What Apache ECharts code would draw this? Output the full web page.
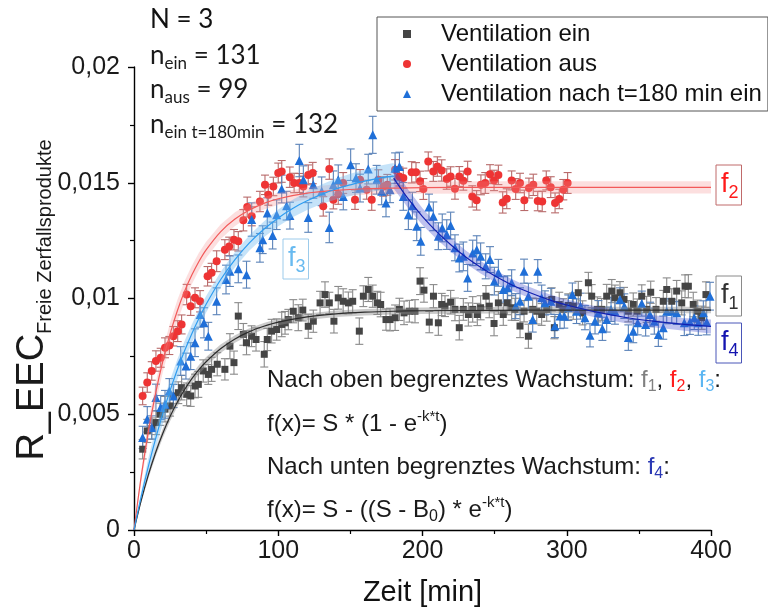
<!DOCTYPE html>
<html>
<head>
<meta charset="utf-8">
<script src="https://cdn.jsdelivr.net/npm/echarts@6.0.0/dist/echarts.min.js"></script>
<style>
  html, body { margin: 0; padding: 0; background: #fff; }
  #chart { width: 768px; height: 612px; }
</style>
</head>
<body>
<div id="chart"></div>
<script>
// All R_EEC values below are stored in units of 10^-3.
const SCALE = 1e-3;

// Axis ranges: [min, max, interval]
const xRange = [0, 400, 100];
const yRange = [0, 0.02, 0.005];

// Ventilation ein (black squares)
const einT = [6,9.2,12.3,15.2,18,21.5,25,27.3,30.7,33,36.5,39.3,42.3,44.6,48,51.5,53.8,57.7,63,66.5,
  69.3,72.3,75.8,78,81.5,84.6,90.3,92.4,95.4,98.9,102.4,104.7,107,110.4,113.9,117,120.8,124.3,129,132.4,
  135.4,138.6,141.6,145,148.6,151.6,156.2,159,162.4,165.5,168.7,171,174.7,177.5,181,184,187.2,190.9,194.8,198.3,
  201,204.7,207.6,211,213.3,215.6,219.5,222.5,225.5,228.3,231.8,234.8,238,240.3,244,246.3,249.6,252.6,256,258.8,
  261.8,264.1,267.6,270.4,273.4,276.4,279.2,282.6,286.1,289.6,291.4,294.8,297.6,301,304.5,308,311,315,317.3,321.2,
  324.2,327.7,331.2,333.4,336.9,339.7,342.7,346.1,348.9,352,355.4,358.2,361.9,366.9,369.3,372.8,376.2,379.7,382,384.3,
  387.7,390.8,393.6,396.5];
const einV = [3.49,4.28,4.38,4.64,5.0,5.22,5.36,5.79,5.93,6.15,5.86,5.79,6.22,6.29,6.87,6.72,6.94,7.16,6.94,7.94,
  7.23,9.24,8.45,8.09,8.37,8.23,7.59,8.23,8.59,8.66,8.88,8.95,9.09,9.45,9.17,9.5,8.8,9.02,9.81,10.17,
  9.81,9.02,10.03,9.88,9.81,9.88,8.59,10.1,10.39,10.1,9.81,9.74,9.09,9.09,9.17,9.53,9.38,9.45,9.45,10.75,
  10.36,8.98,10.1,8.95,9.74,9.67,9.84,9.53,8.74,9.53,9.31,9.53,9.31,9.6,10.1,9.67,8.92,9.81,9.31,9.81,
  9.6,9.53,8.81,9.45,8.37,9.53,9.45,9.31,9.53,9.96,8.74,9.74,9.53,9.7,9.67,10.25,9.38,10.68,10.1,9.53,
  9.53,10.1,10.32,10.03,10.25,9.96,9.45,9.74,9.45,10.1,9.53,10.27,9.53,9.88,10.39,9.88,10.32,9.81,10.53,10.53,
  9.74,9.45,9.17,10.17];
const einErr = [0.42,0.5,0.46,0.52,0.48,0.55,0.44,0.5,0.47,0.53,0.49,0.45,0.51,0.56,0.48,0.43,0.52,0.5,0.46,0.54,
  0.5,0.58,0.47,0.52,0.45,0.5,0.55,0.48,0.51,0.46,0.53,0.49,0.44,0.5,0.56,0.47,0.52,0.48,0.5,0.55,
  0.46,0.51,0.49,0.54,0.47,0.5,0.57,0.45,0.52,0.48,0.5,0.53,0.46,0.49,0.55,0.48,0.51,0.47,0.5,0.58,
  0.52,0.46,0.5,0.54,0.48,0.45,0.51,0.49,0.53,0.47,0.5,0.55,0.48,0.52,0.46,0.5,0.53,0.49,0.47,0.51,
  0.54,0.48,0.5,0.46,0.52,0.49,0.55,0.47,0.51,0.5,0.48,0.53,0.46,0.5,0.57,0.49,0.52,0.45,0.5,0.54,
  0.47,0.51,0.5,0.55,0.48,0.52,0.46,0.5,0.53,0.49,0.56,0.48,0.51,0.47,0.5,0.54,0.46,0.52,0.49,0.5,
  0.53,0.48,0.5,0.55];

// Ventilation aus (red circles)
const ausT = [6,9.2,12.3,15.2,18.5,21.5,24.5,27.3,30.3,33,36.5,39.3,42.3,45.8,51,53.8,57.3,63,66,69.3,
  72.3,75.8,78.5,81.6,87.3,90.8,93.1,96.6,100,102.4,108,111,114.6,117.4,120.8,123.9,131.2,135.4,138.2,141.6,
  145,153.2,156.7,161.3,164.8,169.4,172.8,175.6,181,184,186.7,192.5,195.5,198.3,200.6,204,207.5,210.3,213.3,216.8,
  219.5,222.5,225.5,228.3,231.3,234.5,237.5,240.5,243.5,246.8,249.6,252.6,255.6,258.4,261.8,264.6,267.6,270.6,273.8,276.8,
  279.9,283,285.8,288.9,291.9,294.8,297.6,300.6];
const ausV = [5.79,6.37,6.87,7.3,7.44,7.87,7.97,8.37,8.59,8.88,10.17,9.67,10.03,9.88,10.96,11.11,11.61,12.11,12.25,12.54,
  12.47,13.38,13.95,13.55,14.19,14.91,14.48,14.84,15.42,15.49,15.24,14.99,14.99,14.84,15.34,15.42,13.98,15.59,14.27,14.5,
  14.99,14.27,15.13,14.7,14.27,15.13,14.84,14.91,15.56,15.27,15.2,15.45,15.45,15.06,14.73,15.92,15.49,15.7,15.53,15.16,
  15.27,14.74,15.27,15.09,15.49,14.41,14.24,14.91,14.99,15.37,15.1,15.34,14.15,14.31,15.1,14.73,14.99,14.24,14.77,14.91,
  14.21,14.19,15.1,14.81,14.13,14.3,14.7,14.99];
const ausErr = [0.38,0.42,0.4,0.44,0.41,0.43,0.39,0.42,0.45,0.41,0.44,0.4,0.43,0.46,0.42,0.41,0.45,0.43,0.4,0.44,
  0.42,0.46,0.43,0.41,0.44,0.42,0.45,0.4,0.43,0.47,0.44,0.42,0.41,0.45,0.43,0.46,0.42,0.44,0.4,0.43,
  0.45,0.42,0.44,0.41,0.46,0.43,0.42,0.45,0.44,0.41,0.43,0.46,0.42,0.44,0.45,0.41,0.43,0.42,0.46,0.44,
  0.42,0.45,0.43,0.41,0.44,0.46,0.42,0.43,0.45,0.41,0.44,0.42,0.46,0.43,0.41,0.45,0.42,0.44,0.43,0.46,
  0.42,0.44,0.41,0.45,0.43,0.42,0.44,0.45];

// Ventilation nach t=180 min ein (blue triangles)
const nachT = [6,9.2,12.3,15.2,18.5,21.5,24.5,27.3,32.4,36,39.3,42.3,45.8,48.5,51.5,57.3,63.8,66.5,72.3,78,
  81.6,87.3,89.2,92.4,96.1,98.9,102.4,105.8,108.1,114.6,117.4,120.8,124.3,130.1,135.4,138.2,141.6,145.1,150.2,153.9,
  156.7,162.4,165.5,168.2,171.7,174.7,177.5,181,184,186.7,190.2,193,196,198.8,204.5,207.5,211,213.7,216.8,219.5,
  222.5,225.5,228.3,231.3,234.8,237.6,240.3,243.8,246.8,249.8,252.6,256,259,261.8,264.6,267.6,270.4,273.4,276.4,279.9,
  282.6,284.9,289,291.8,295.3,298.3,301.1,303.9,306.8,309.5,312.6,316.1,319.6,321.9,324.7,327.7,330.7,333.4,336.9,339.9,
  342.7,346.1,349.2,352,354.7,357.7,360.7,363.5,366.9,369.3,372.8,376.2,381.5,385.4,388.4,391.2,394.7,397,399.3];
const nachV = [4.0,4.78,4.43,5.72,5.29,5.43,6.0,5.79,7.3,7.08,7.51,8.09,9.31,8.95,8.37,9.88,10.82,11.18,11.28,11.03,
  13.41,12.19,12.54,13.69,12.72,13.62,14.73,14.01,13.58,15.96,15.13,13.5,14.91,14.63,13.07,14.91,15.13,14.41,15.78,15.2,
  14.77,15.59,17.07,15.13,14.63,14.13,14.7,15.63,15.7,14.41,13.62,14.01,13.12,12.47,13.95,13.55,12.69,13.05,12.76,13.15,
  12.19,11.75,11.82,10.89,11.97,12.11,11.82,11.39,11.68,10.75,11.11,10.39,10.46,10.68,9.67,9.88,11.18,10.1,9.09,11.18,
  10.03,9.81,9.88,8.81,9.24,9.24,9.6,10.17,9.45,9.67,9.17,8.41,9.02,9.38,8.69,9.09,9.53,9.45,9.96,9.67,
  8.31,8.59,8.95,9.78,8.88,9.31,9.02,8.45,8.74,9.45,9.45,9.38,8.95,8.98,9.17,8.95,9.38,8.98,10.1];
const nachErr = [0.48,0.55,0.5,0.58,0.52,0.6,0.54,0.5,0.62,0.56,0.58,0.6,0.55,0.65,0.6,0.58,0.62,0.66,0.6,0.58,
  0.72,0.62,0.6,0.66,0.58,0.64,0.6,0.62,0.58,0.7,0.6,0.64,0.58,0.62,0.66,0.6,0.64,0.58,0.68,0.62,
  0.6,0.64,0.8,0.62,0.58,0.6,0.56,0.66,0.62,0.6,0.64,0.58,0.62,0.6,0.56,0.62,0.58,0.6,0.64,0.58,
  0.56,0.6,0.62,0.58,0.55,0.6,0.58,0.54,0.56,0.6,0.58,0.55,0.52,0.56,0.54,0.58,0.52,0.56,0.54,0.5,
  0.55,0.52,0.56,0.5,0.54,0.52,0.55,0.5,0.53,0.56,0.52,0.5,0.55,0.53,0.5,0.54,0.52,0.56,0.5,0.53,
  0.55,0.5,0.52,0.54,0.5,0.53,0.56,0.52,0.5,0.54,0.52,0.5,0.55,0.53,0.51,0.54,0.52,0.55,0.6];

// Fitted curves f1..f4 with the half width of their confidence bands
const f1T = [0,5,10,15,20,25,30,35,40,45,50,60,70,80,90,100,120,140,160,180,200,250,300,400];
const f1V = [0,1.28,2.39,3.35,4.18,4.90,5.52,6.06,6.53,6.93,7.27,7.83,8.25,8.57,8.80,8.98,9.21,9.34,9.41,9.45,9.47,9.49,9.50,9.50];
const f1Half = [0,0.1,0.15,0.18,0.2,0.2,0.2,0.2,0.2,0.2,0.2,0.18,0.16,0.15,0.14,0.14,0.14,0.14,0.14,0.14,0.14,0.14,0.14,0.14];

const f2T = [0,5,10,15,20,25,30,35,40,45,50,60,70,80,90,100,120,140,160,180,200,250,300,400];
const f2V = [0,2.31,4.26,5.91,7.30,8.47,9.46,10.30,11.00,11.60,12.10,12.88,13.43,13.82,14.11,14.31,14.55,14.67,14.74,14.77,14.79,14.80,14.80,14.80];
const f2Half = [0,0.25,0.4,0.45,0.48,0.48,0.46,0.44,0.4,0.38,0.35,0.32,0.3,0.28,0.27,0.26,0.26,0.26,0.26,0.26,0.26,0.26,0.26,0.26];

const f3T = [0,5,10,15,20,25,30,35,40,45,50,60,70,80,90,100,110,120,130,140,150,160,170,180];
const f3V = [0,1.45,2.76,3.95,5.04,6.02,6.92,7.73,8.47,9.14,9.75,10.81,11.68,12.40,12.99,13.48,13.89,14.22,14.50,14.73,14.91,15.07,15.20,15.30];
const f3Half = [0,0.2,0.35,0.42,0.45,0.45,0.44,0.42,0.4,0.38,0.36,0.34,0.33,0.33,0.34,0.36,0.38,0.4,0.42,0.45,0.48,0.5,0.53,0.55];

const f4T = [180,190,200,210,220,230,240,250,260,270,280,290,300,320,340,360,380,400];
const f4V = [15.20,14.31,13.54,12.88,12.30,11.79,11.36,10.98,10.65,10.37,10.12,9.90,9.72,9.42,9.19,9.02,8.89,8.79];
const f4Half = [0.45,0.4,0.36,0.33,0.3,0.28,0.27,0.26,0.25,0.24,0.24,0.24,0.24,0.24,0.25,0.26,0.27,0.3];

const SERIES_NAMES = ['Ventilation ein', 'Ventilation aus', 'Ventilation nach t=180 min ein'];

const SANS = 'Liberation Sans';
const CAL = 'Lato';

function pts(t, v) {
  return t.map((x, i) => [x, v[i] * SCALE]);
}

function errorBars(id, t, v, e, color) {
  return {
    type: 'custom', id, z: 2, silent: true,
    data: t.map((x, i) => [x, v[i] * SCALE, (v[i] - e[i]) * SCALE, (v[i] + e[i]) * SCALE]),
    encode: { x: 0, y: [1, 2, 3] },
    renderItem(params, api) {
      const lo = api.coord([api.value(0), api.value(2)]);
      const hi = api.coord([api.value(0), api.value(3)]);
      const w = 4;
      const st = () => ({ stroke: color, lineWidth: 1.1 });
      return {
        type: 'group',
        children: [
          { type: 'line', shape: { x1: lo[0], y1: lo[1], x2: hi[0], y2: hi[1] }, style: st() },
          { type: 'line', shape: { x1: hi[0] - w, y1: hi[1], x2: hi[0] + w, y2: hi[1] }, style: st() },
          { type: 'line', shape: { x1: lo[0] - w, y1: lo[1], x2: lo[0] + w, y2: lo[1] }, style: st() }
        ]
      };
    }
  };
}

function band(id, t, v, h, fill) {
  return {
    type: 'custom', id, z: 4, silent: true, clip: true,
    data: [[t[0], v[0] * SCALE]],
    renderItem(params, api) {
      const up = t.map((x, i) => api.coord([x, (v[i] + h[i]) * SCALE]));
      const dn = t.map((x, i) => api.coord([x, (v[i] - h[i]) * SCALE])).reverse();
      return { type: 'polygon', shape: { points: up.concat(dn) }, style: { fill } };
    }
  };
}

function fitLine(id, t, v, color) {
  return {
    type: 'line', id, z: 5, silent: true, symbol: 'none', showSymbol: false,
    data: pts(t, v), smooth: 0.3,
    lineStyle: { color, width: 1.2 }, itemStyle: { color }
  };
}

function scatter(name, t, v, symbol, size, color) {
  return {
    type: 'scatter', name, z: 3, symbol, symbolSize: size,
    data: pts(t, v), itemStyle: { color, opacity: 1 }
  };
}

// Rich-text helpers for annotation lines
function richSet(size, family) {
  const base = { fontSize: size, fontFamily: family, lineHeight: size + 6, verticalAlign: 'middle' };
  const sub = { fontSize: Math.round(size * 0.65), fontFamily: family, lineHeight: Math.round(size * 0.6), verticalAlign: 'bottom' };
  const sup = { fontSize: Math.round(size * 0.62), fontFamily: family, lineHeight: Math.round(size * 0.6), verticalAlign: 'top' };
  return {
    t: Object.assign({}, base, { fill: '#1a1a1a' }),
    s: Object.assign({}, sub, { fill: '#1a1a1a' }),
    p: Object.assign({}, sup, { fill: '#1a1a1a' }),
    g: Object.assign({}, base, { fill: '#808080' }),
    gs: Object.assign({}, sub, { fill: '#808080' }),
    r: Object.assign({}, base, { fill: '#ff1c1c' }),
    rs: Object.assign({}, sub, { fill: '#ff1c1c' }),
    b: Object.assign({}, base, { fill: '#5cb6f2' }),
    bs: Object.assign({}, sub, { fill: '#5cb6f2' }),
    d: Object.assign({}, base, { fill: '#2a38b4' }),
    ds: Object.assign({}, sub, { fill: '#2a38b4' })
  };
}

const annoRich = richSet(24, SANS);
const nRich = richSet(26, CAL);

function label(x, y, text, rich) {
  return { type: 'text', x, y, silent: true, style: { text, rich, verticalAlign: 'top', align: 'left' } };
}

function fBox(x, y, num, color, border) {
  return {
    type: 'text', x, y, silent: true,
    style: {
      text: '{a|f}{b|' + num + '}',
      rich: {
        a: { fontSize: 27, fontFamily: SANS, fill: color, lineHeight: 34, verticalAlign: 'middle' },
        b: { fontSize: 18, fontFamily: SANS, fill: color, lineHeight: 18, verticalAlign: 'bottom' }
      },
      borderColor: border, borderWidth: 1, padding: [3, 3, 3, 5],
      verticalAlign: 'top', align: 'left'
    }
  };
}

const chart = echarts.init(document.getElementById('chart'), null, { renderer: 'canvas' });

chart.setOption({
  animation: false,
  backgroundColor: '#ffffff',
  grid: { left: 134, right: 57, top: 67, bottom: 81, containLabel: false },
  legend: {
    orient: 'vertical', left: 377, top: 17,
    padding: [5, 6, 5, 26],
    itemWidth: 8, itemHeight: 8, itemGap: 6,
    borderColor: '#555', borderWidth: 1,
    selectedMode: false,
    textStyle: { fontFamily: SANS, fontSize: 24, color: '#111', lineHeight: 24, padding: [0, 0, 0, 25] },
    data: [
      { name: SERIES_NAMES[0], icon: 'rect' },
      { name: SERIES_NAMES[1], icon: 'circle' },
      { name: SERIES_NAMES[2], icon: 'triangle' }
    ]
  },
  xAxis: {
    type: 'value', min: xRange[0], max: xRange[1], interval: xRange[2],
    name: 'Zeit [min]', nameLocation: 'middle', nameGap: 48,
    nameTextStyle: { fontFamily: SANS, fontSize: 29, color: '#111' },
    splitLine: { show: false },
    axisLine: { lineStyle: { color: '#000', width: 1.4 } },
    axisTick: { show: true, inside: false, length: 6, lineStyle: { color: '#000', width: 1.4 } },
    minorTick: { show: true, splitNumber: 2, length: 4, lineStyle: { color: '#000', width: 1.2 } },
    axisLabel: { fontFamily: SANS, fontSize: 25, color: '#1a1a1a', margin: 9 }
  },
  yAxis: {
    type: 'value', min: yRange[0], max: yRange[1], interval: yRange[2],
    splitLine: { show: false },
    axisLine: { show: true, lineStyle: { color: '#000', width: 1.4 } },
    axisTick: { show: true, inside: false, length: 6, lineStyle: { color: '#000', width: 1.4 } },
    minorTick: { show: true, splitNumber: 2, length: 4, lineStyle: { color: '#000', width: 1.2 } },
    axisLabel: {
      fontFamily: SANS, fontSize: 25, color: '#1a1a1a', margin: 14,
      formatter: v => (v === 0 ? '0' : String(+v.toFixed(4)).replace('.', ','))
    }
  },
  series: [
    errorBars('errEin', einT, einV, einErr, '#8a8a8a'),
    scatter(SERIES_NAMES[0], einT, einV, 'rect', 7, '#454545'),
    errorBars('errAus', ausT, ausV, ausErr, '#b86a6a'),
    scatter(SERIES_NAMES[1], ausT, ausV, 'circle', 8, '#ee3434'),
    errorBars('errNach', nachT, nachV, nachErr, '#5a82b8'),
    scatter(SERIES_NAMES[2], nachT, nachV, 'triangle', 9, '#1f6fd8'),
    band('bandF1', f1T, f1V, f1Half, 'rgba(140,140,140,0.45)'),
    band('bandF2', f2T, f2V, f2Half, 'rgba(245,140,140,0.28)'),
    band('bandF3', f3T, f3V, f3Half, 'rgba(110,185,240,0.4)'),
    band('bandF4', f4T, f4V, f4Half, 'rgba(70,80,205,0.35)'),
    fitLine('fitF1', f1T, f1V, '#2b2b2b'),
    fitLine('fitF2', f2T, f2V, '#f25a5a'),
    fitLine('fitF3', f3T, f3V, '#2e9cf0'),
    fitLine('fitF4', f4T, f4V, '#1220b0')
  ],
  graphic: [
    // sample sizes
    { type: 'text', x: 150, y: 7, silent: true, style: { text: 'N = 3', fontSize: 26, fontFamily: CAL, fill: '#111', verticalAlign: 'top' } },
    label(150, 40, '{t|n}{s|ein}{t| = 131}', nRich),
    label(150, 74, '{t|n}{s|aus}{t| = 99}', nRich),
    label(150, 109, '{t|n}{s|ein t=180min}{t| = 132}', nRich),
    // model annotations
    label(267, 365, '{t|Nach oben begrenztes Wachstum: }{g|f}{gs|1}{t|, }{r|f}{rs|2}{t|, }{b|f}{bs|3}{t|:}', annoRich),
    label(267, 409, '{t|f(x)= S * (1 - e}{p|-k*t}{t|)}', annoRich),
    label(267, 452, '{t|Nach unten begrenztes Wachstum: }{d|f}{ds|4}{t|:}', annoRich),
    label(267, 495, '{t|f(x)= S - ((S - B}{s|0}{t|) * e}{p|-k*t}{t|)}', annoRich),
    // curve tags
    fBox(716, 165, '2', '#ff1a1a', '#c06a6a'),
    fBox(283, 239, '3', '#68baf0', '#9ccbeb'),
    fBox(716, 276, '1', '#333333', '#8a8a8a'),
    fBox(716, 323, '4', '#1414b0', '#4a56b8'),
    // y axis title
    {
      type: 'text', x: 33, y: 300, rotation: Math.PI / 2, silent: true,
      style: {
        text: '{m|R_EEC}{s|Freie Zerfallsprodukte}',
        align: 'center', verticalAlign: 'middle',
        rich: {
          m: { fontSize: 38, fontFamily: SANS, fill: '#1a1a1a', lineHeight: 44, verticalAlign: 'middle' },
          s: { fontSize: 20, fontFamily: SANS, fill: '#1a1a1a', lineHeight: 22, verticalAlign: 'bottom' }
        }
      }
    }
  ]
});
</script>
</body>
</html>
